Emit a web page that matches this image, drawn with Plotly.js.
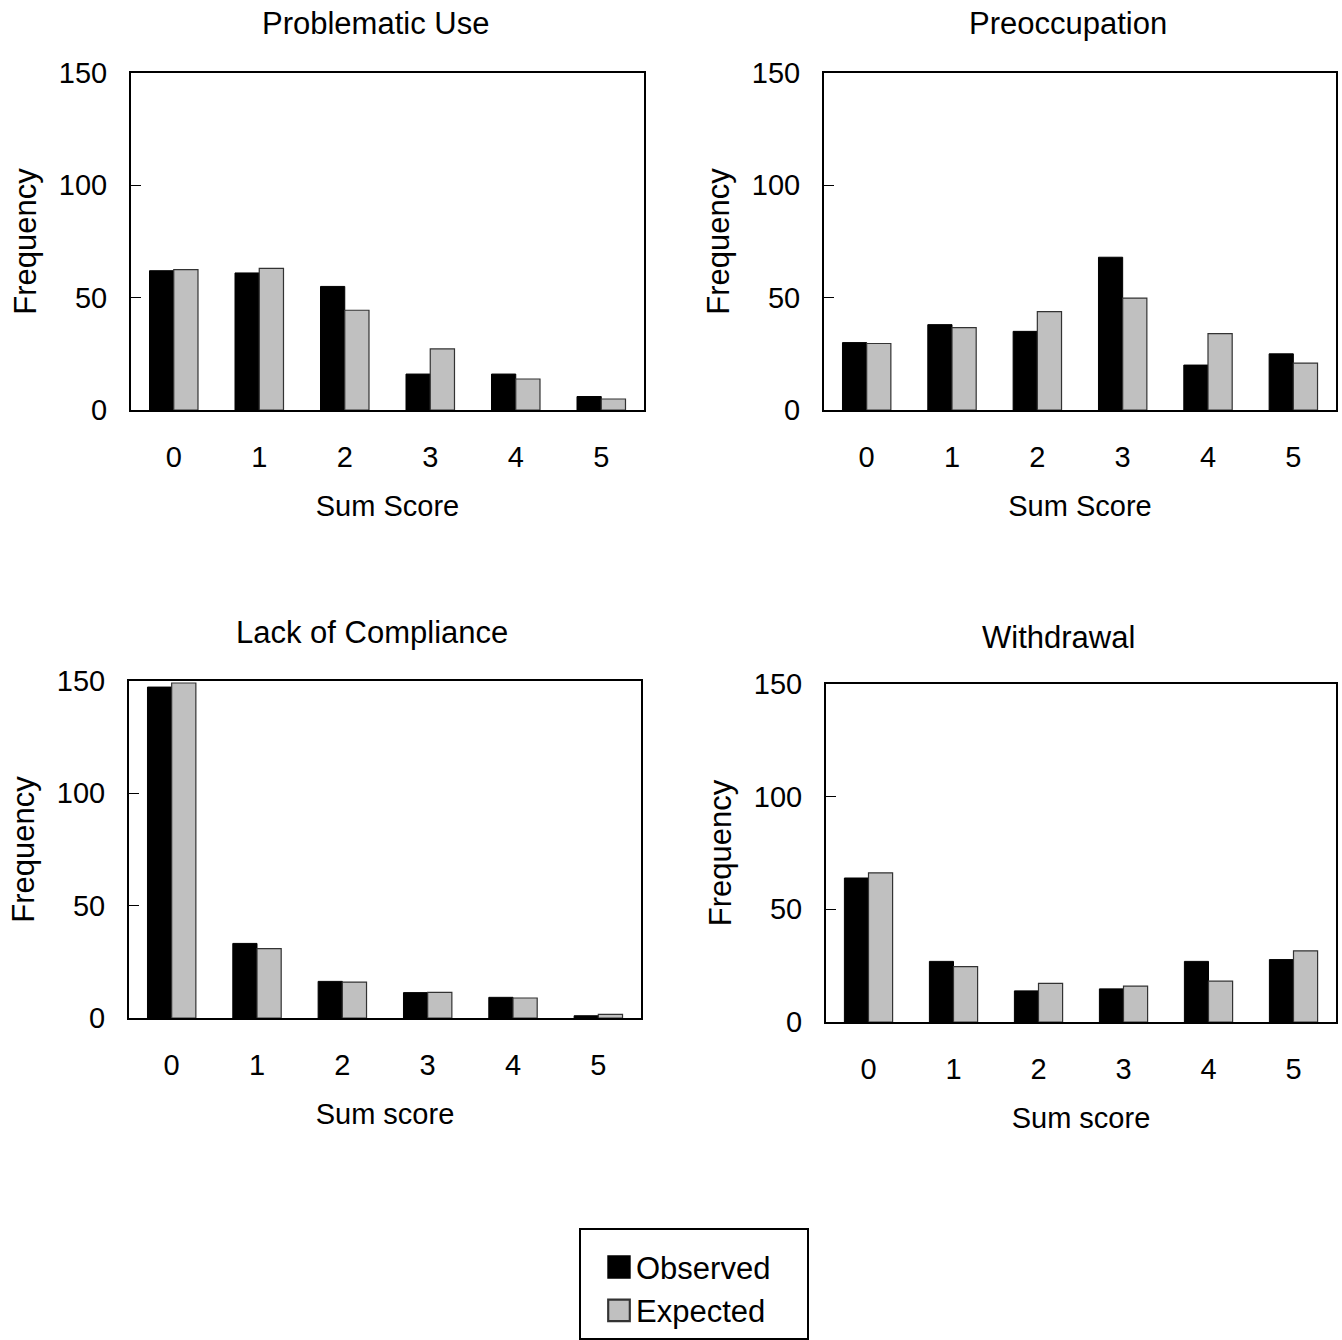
<!DOCTYPE html>
<html>
<head>
<meta charset="utf-8">
<script src="https://cdn.plot.ly/plotly-3.0.1.min.js"></script>
<style>html,body{margin:0;padding:0;background:#fff;}#chart{width:1342px;height:1340px;}</style>
</head>
<body>
<div id="chart"></div>
<script>
const categories = ['0', '1', '2', '3', '4', '5'];
const panelTitles = ['Problematic Use', 'Preoccupation', 'Lack of Compliance', 'Withdrawal'];
const xTitles = ['Sum Score', 'Sum Score', 'Sum score', 'Sum score'];
const yTitle = 'Frequency';
const yTickVals = [0, 50, 100, 150];
const seriesNames = ['Observed', 'Expected'];

const problematicObserved = [62, 61, 55, 16, 16, 6];
const problematicExpected = [62.5, 63, 44.4, 27.2, 13.8, 4.9];
const preoccupationObserved = [30, 38, 35, 68, 20, 25];
const preoccupationExpected = [29.6, 36.7, 43.8, 49.8, 34, 20.9];
const complianceObserved = [147.3, 33.2, 16.3, 11.3, 9.2, 1.0];
const complianceExpected = [149.1, 30.9, 16, 11.4, 8.9, 1.6];
const withdrawalObserved = [63.9, 26.9, 13.8, 14.7, 26.9, 27.7];
const withdrawalExpected = [66.2, 24.6, 17.1, 15.9, 18.1, 31.6];

const observedSets = [problematicObserved, preoccupationObserved, complianceObserved, withdrawalObserved];
const expectedSets = [problematicExpected, preoccupationExpected, complianceExpected, withdrawalExpected];

const W = 1342, H = 1340;
// plot boxes in pixels: [left, right, top, bottom]
const boxes = [
  [131, 644, 73, 410],
  [824, 1336, 73, 410],
  [129, 641, 681, 1018],
  [826, 1336, 684, 1022]
];
const titlePos = [[375, 24], [1068, 24], [371.5, 632], [1058.5, 637]];

const FONT = 'Liberation Sans, Arial, Helvetica, sans-serif';
const traces = [];
const layout = {
  width: W, height: H,
  margin: {l: 0, r: 0, t: 0, b: 0},
  paper_bgcolor: '#fff', plot_bgcolor: '#fff',
  font: {family: FONT, color: '#000', size: 29},
  barmode: 'group', bargap: 0.433, bargroupgap: 0,
  showlegend: true,
  legend: {
    x: 579 / W, y: 1 - 1228 / H, xanchor: 'left', yanchor: 'top',
    bgcolor: '#fff', bordercolor: '#000', borderwidth: 2,
    font: {family: FONT, size: 31, color: '#000'},
    title: {text: '\u00a0', font: {size: 8}},
    indentation: 15, tracegroupgap: 0
  },
  annotations: []
};

for (let i = 0; i < 4; i++) {
  const sfx = i === 0 ? '' : String(i + 1);
  const b = boxes[i];
  traces.push({
    type: 'bar', x: categories, y: observedSets[i], name: seriesNames[0],
    legendgroup: 'obs', showlegend: i === 0,
    xaxis: 'x' + sfx, yaxis: 'y' + sfx,
    marker: {color: '#000000', line: {color: '#000000', width: 1}},
    hoverinfo: 'skip'
  });
  traces.push({
    type: 'bar', x: categories, y: expectedSets[i], name: seriesNames[1],
    legendgroup: 'exp', showlegend: i === 0,
    xaxis: 'x' + sfx, yaxis: 'y' + sfx,
    marker: {color: '#c0c0c0', line: {color: '#333333', width: 1.2}},
    hoverinfo: 'skip'
  });
  layout['xaxis' + sfx] = {
    domain: [b[0] / W, b[1] / W], anchor: 'y' + sfx,
    type: 'category', range: [-0.5, 5.5],
    showline: true, linecolor: '#000', linewidth: 2, mirror: true,
    ticks: '', showgrid: false, zeroline: false,
    tickfont: {size: 29}, ticklabelstandoff: 20,
    title: {text: xTitles[i], font: {size: 29}, standoff: 24},
    fixedrange: true
  };
  layout['yaxis' + sfx] = {
    domain: [1 - b[3] / H, 1 - b[2] / H], anchor: 'x' + sfx,
    range: [0, 150], tickvals: yTickVals,
    showline: true, linecolor: '#000', linewidth: 2, mirror: true,
    ticks: 'inside', ticklen: 10, tickwidth: 1, tickcolor: '#000',
    showgrid: false, zeroline: false,
    tickfont: {size: 29}, ticklabelstandoff: 16,
    title: {text: yTitle, font: {size: 31}, standoff: 13},
    fixedrange: true
  };
  layout.annotations.push({
    text: panelTitles[i], xref: 'paper', yref: 'paper',
    x: titlePos[i][0] / W, y: 1 - titlePos[i][1] / H,
    xanchor: 'center', yanchor: 'middle', showarrow: false,
    font: {size: 31, family: FONT, color: '#000'}
  });
}

Plotly.newPlot('chart', traces, layout, {displayModeBar: false, staticPlot: true}).then(function () {
  document.querySelectorAll('.legend .legendpoints path').forEach(function (p) {
    const t = p.getAttribute('transform') || '';
    p.setAttribute('transform', t + ' translate(3,0) scale(1.8)');
  });
  const bg = document.querySelector('.legend rect.bg');
  if (bg) bg.setAttribute('width', 228);
});
</script>
</body>
</html>
